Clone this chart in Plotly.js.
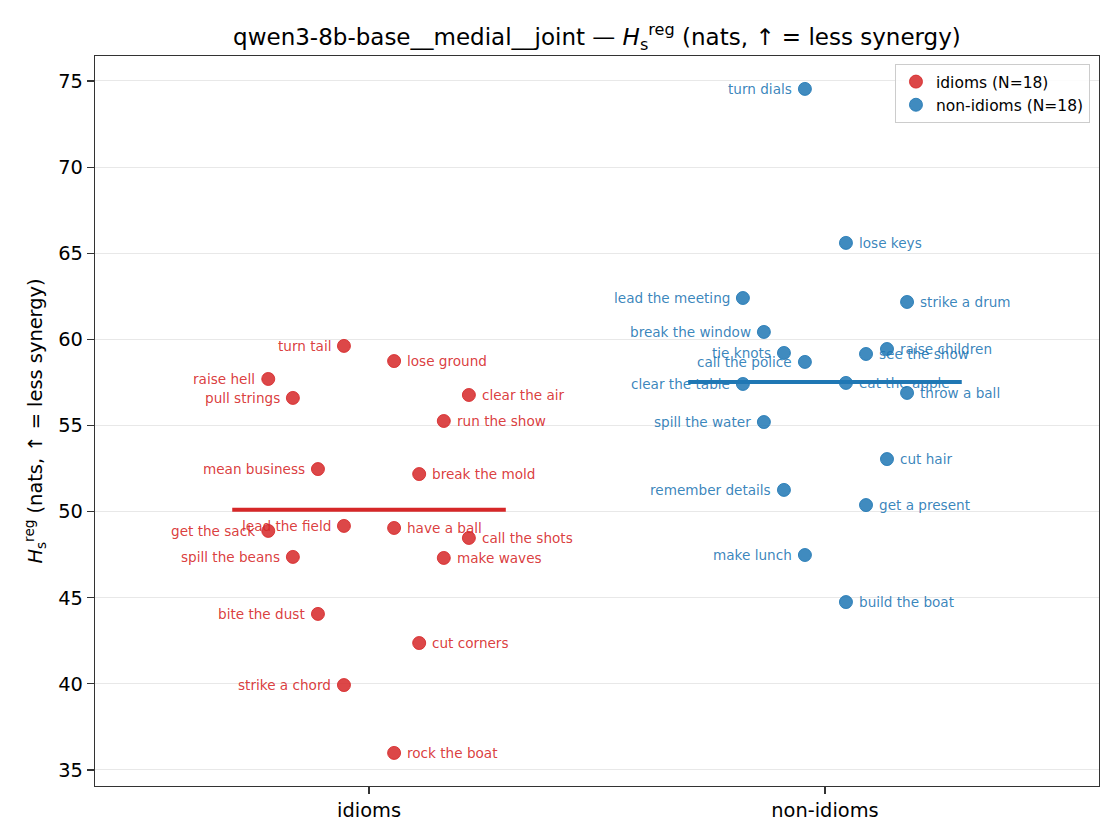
<!DOCTYPE html>
<html>
<head>
<meta charset="utf-8">
<script src="https://cdn.plot.ly/plotly-3.0.1.min.js"></script>
<style>html,body{margin:0;padding:0;background:#fff;}#chart{width:1120px;height:840px;}</style>
</head>
<body>
<div id="chart"></div>
<script>
// ---- data ----
const categories = ['idioms', 'non-idioms'];

const idiomLabels = ['turn tail','lose ground','raise hell','pull strings','clear the air','run the show',
  'mean business','break the mold','lead the field','have a ball','get the sack','call the shots',
  'spill the beans','make waves','bite the dust','cut corners','strike a chord','rock the boat'];
const idiomValues = [59.62,58.74,57.70,56.60,56.77,55.26,52.47,52.18,49.17,49.05,48.88,48.47,47.37,47.31,44.06,42.37,39.93,35.99];
const idiomJitter = [-0.055,0.055,-0.221,-0.167,0.219,0.164,-0.112,0.110,-0.055,0.055,-0.221,0.219,-0.167,0.164,-0.112,0.110,-0.055,0.055];

const nonLabels = ['turn dials','lose keys','lead the meeting','strike a drum','break the window','tie knots',
  'raise children','see the show','call the police','clear the table','eat the apple','throw a ball',
  'spill the water','cut hair','remember details','get a present','make lunch','build the boat'];
const nonValues = [74.54,65.60,62.40,62.17,60.43,59.21,59.44,59.15,58.69,57.41,57.47,56.89,55.20,53.05,51.26,50.38,47.48,44.75];
const nonJitter = [-0.044,0.046,-0.180,0.180,-0.134,-0.090,0.136,0.090,-0.044,-0.180,0.046,0.180,-0.134,0.136,-0.090,0.090,-0.044,0.046];

const yTicks = [35,40,45,50,55,60,65,70,75];

// ---- styling ----
const RED = '#d62728', BLUE = '#1f77b4';
const RED_A = 'rgba(214,39,40,0.85)', BLUE_A = 'rgba(31,119,180,0.85)';
const RED_T = 'rgba(214,39,40,0.9)', BLUE_T = 'rgba(31,119,180,0.9)';
const FONT = 'DejaVu Sans, sans-serif';

function mean(a){ return a.reduce((s,v)=>s+v,0)/a.length; }

const groups = [
  {name: categories[0], labels: idiomLabels, values: idiomValues, jitter: idiomJitter, pos: 0, c: RED, ca: RED_A, ct: RED_T},
  {name: categories[1], labels: nonLabels, values: nonValues, jitter: nonJitter, pos: 1, c: BLUE, ca: BLUE_A, ct: BLUE_T}
];

const traces = [];
const annotations = [];
groups.forEach(g => {
  const xs = g.jitter.map(j => g.pos + j);
  traces.push({
    type: 'scatter', mode: 'markers', x: xs, y: g.values,
    name: g.name + ' (N=' + g.values.length + ')',
    marker: {size: 13, color: g.ca, line: {width: 1, color: g.ca}},
    hoverinfo: 'skip'
  });
  xs.forEach((x, i) => {
    const right = g.jitter[i] > 0;
    annotations.push({
      x: x, y: g.values[i], xref: 'x', yref: 'y', text: g.labels[i], showarrow: false,
      xanchor: right ? 'left' : 'right', yanchor: 'middle', xshift: right ? 11 : -11,
      font: {family: FONT, size: 13.6, color: g.ct}
    });
  });
});
groups.forEach(g => {
  const m = mean(g.values);
  traces.push({
    type: 'scatter', mode: 'lines', x: [g.pos - 0.3, g.pos + 0.3], y: [m, m],
    line: {color: g.c, width: 4}, showlegend: false, hoverinfo: 'skip'
  });
});

const layout = {
  width: 1120, height: 840,
  margin: {l: 95, r: 21, t: 56, b: 54},
  paper_bgcolor: '#fff', plot_bgcolor: '#fff',
  font: {family: FONT, color: '#000'},
  showlegend: true,
  title: {
    text: 'qwen3-8b-base__medial__joint — <i>H</i><sub>s</sub><sup>reg</sup> (nats, ↑ = less synergy)',
    font: {family: FONT, size: 23}, x: 0.533, xanchor: 'center', xref: 'container',
    y: 1 - 37/840, yref: 'container', yanchor: 'middle'
  },
  xaxis: {
    range: [-0.601, 1.601], tickvals: [0, 1], ticktext: categories,
    showgrid: false, zeroline: false, showline: true, linecolor: '#333', linewidth: 1.2, mirror: true,
    ticks: 'outside', ticklen: 7, tickcolor: '#333', tickwidth: 1.2,
    tickfont: {family: FONT, size: 19.4, color: '#000'}
  },
  yaxis: {
    range: [34.07, 76.45], tickvals: yTicks,
    showgrid: true, gridcolor: '#e8e8e8', gridwidth: 1, zeroline: false,
    showline: true, linecolor: '#333', linewidth: 1.2, mirror: true,
    ticks: 'outside', ticklen: 7, tickcolor: '#333', tickwidth: 1.2,
    tickfont: {family: FONT, size: 19.4, color: '#000'},
    title: {text: '<i>H</i><sub>s</sub><sup>reg</sup> (nats, ↑ = less synergy)', font: {family: FONT, size: 19.4}, standoff: 10}
  },
  legend: {
    x: 0.991, xanchor: 'right', y: 0.989, yanchor: 'top',
    bgcolor: 'rgba(255,255,255,0.85)', bordercolor: '#cccccc', borderwidth: 1,
    font: {family: FONT, size: 15.5, color: '#000'}, itemwidth: 30
  },
  annotations: annotations
};

Plotly.newPlot('chart', traces, layout, {displayModeBar: false, staticPlot: true});
</script>
</body>
</html>
